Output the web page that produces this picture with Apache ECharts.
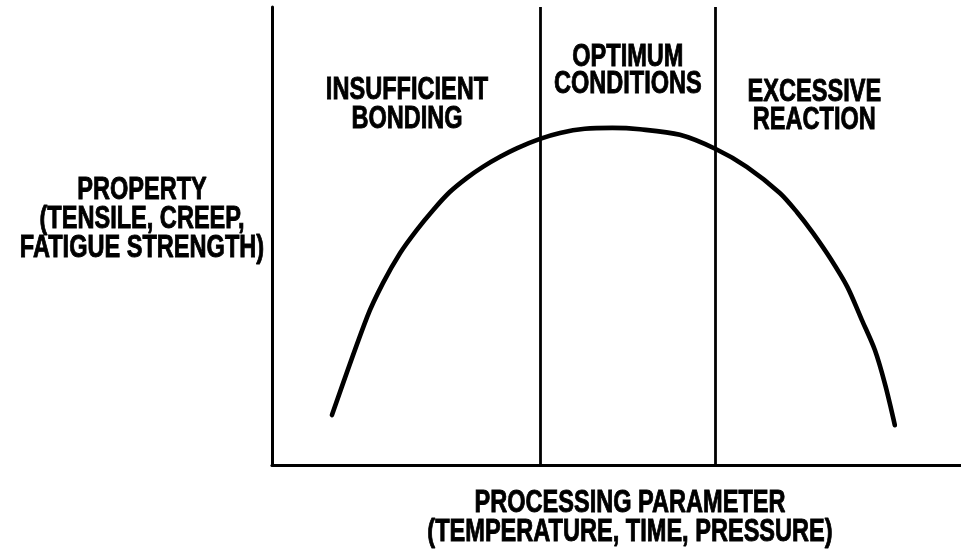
<!DOCTYPE html>
<html>
<head>
<meta charset="utf-8">
<script src="https://cdn.jsdelivr.net/npm/echarts@6/dist/echarts.min.js"></script>
<style>
html,body{margin:0;padding:0;background:#fff;}
#chart{width:961px;height:549px;}
</style>
</head>
<body>
<div id="chart"></div>
<script>
// Processing parameter (arbitrary units, 0-100) and property (arbitrary units, 0-100)
const curveX = [8.7, 13.8, 16.1, 18.6, 21.0, 23.4, 25.8, 28.3, 30.6, 33.1, 35.6, 38.9, 41.8, 45.4, 49.4, 53.4, 59.2, 64.4, 68.9, 73.7, 76.2, 78.5, 81.0, 83.5, 85.6, 87.5, 89.0, 90.4];
const curveY = [10.9, 32.3, 39.7, 46.3, 51.3, 55.7, 59.6, 62.7, 65.1, 67.3, 69.2, 71.2, 72.5, 73.4, 73.6, 73.3, 72.1, 69.0, 65.1, 59.4, 55.2, 50.7, 45.2, 38.9, 31.7, 25.1, 17.5, 8.7];
const boundaries = [38.9, 64.4];
const regionLabels = ['INSUFFICIENT\nBONDING', 'OPTIMUM\nCONDITIONS', 'EXCESSIVE\nREACTION'];
const xAxisName = 'PROCESSING PARAMETER\n(TEMPERATURE, TIME, PRESSURE)';
const yAxisName = 'PROPERTY\n(TENSILE, CREEP,\nFATIGUE STRENGTH)';

const FONT_FAMILY = '"Liberation Sans", Arial, "DejaVu Sans", sans-serif';
const FONT_SIZE = 31;
const SQUEEZE = 0.76; // condensed type

const chart = echarts.init(document.getElementById('chart'), null, { renderer: 'canvas' });

const GRID = { left: 272, right: 0, top: 7, bottom: 84 };

chart.setOption({
  backgroundColor: '#fff',
  animation: false,
  grid: Object.assign({ containLabel: false }, GRID),
  xAxis: {
    type: 'value', min: 0, max: 100,
    axisLine: { show: true, lineStyle: { color: '#000', width: 3.2 } },
    axisTick: { show: false }, axisLabel: { show: false }, splitLine: { show: false }
  },
  yAxis: {
    type: 'value', min: 0, max: 100,
    axisLine: { show: true, lineStyle: { color: '#000', width: 3 } },
    axisTick: { show: false }, axisLabel: { show: false }, splitLine: { show: false }
  },
  series: [{
    type: 'line',
    data: curveX.map((x, i) => [x, curveY[i]]),
    smooth: 0.3,
    symbol: 'none',
    silent: true,
    lineStyle: { color: '#000', width: 4.6, cap: 'round', join: 'round' },
    markLine: {
      silent: true, symbol: 'none', label: { show: false },
      lineStyle: { color: '#000', width: 2.8, type: 'solid' },
      data: boundaries.map(b => ({ xAxis: b }))
    }
  }]
});

// Text labels placed from the axes' own scale
function textEl(text, x, y, lineHeight) {
  return {
    type: 'text',
    x: x, y: y,
    scaleX: SQUEEZE, scaleY: 1,
    silent: true,
    style: {
      text: text,
      fontFamily: FONT_FAMILY, fontWeight: 'bold', fontSize: FONT_SIZE,
      fill: '#000', stroke: '#000', lineWidth: 0.9,
      align: 'center', verticalAlign: 'middle',
      textAlign: 'center', textVerticalAlign: 'middle',
      lineHeight: lineHeight
    }
  };
}

const edges = [0, boundaries[0], boundaries[1], 100];
const regionLayout = [
  { dx: 1, dy: 98, lh: 29 },
  { dx: 0, dy: 63.5, lh: 27 },
  { dx: -24, dy: 99.5, lh: 28 }
];
const topPx = chart.convertToPixel({ gridIndex: 0 }, [0, 100])[1];
const origin = chart.convertToPixel({ gridIndex: 0 }, [0, 0]);
const midX = chart.convertToPixel({ gridIndex: 0 }, [50, 0])[0];

const graphics = regionLabels.map((t, i) => {
  const cx = chart.convertToPixel({ gridIndex: 0 }, [(edges[i] + edges[i + 1]) / 2, 0])[0];
  return textEl(t, cx + regionLayout[i].dx, topPx + regionLayout[i].dy, regionLayout[i].lh);
});
graphics.push(textEl(xAxisName, midX + 13.5, origin[1] + 52.5, 29));
graphics.push(textEl(yAxisName, origin[0] - 130, topPx + 212, 29));

chart.setOption({ graphic: { elements: graphics } });
</script>
</body>
</html>
